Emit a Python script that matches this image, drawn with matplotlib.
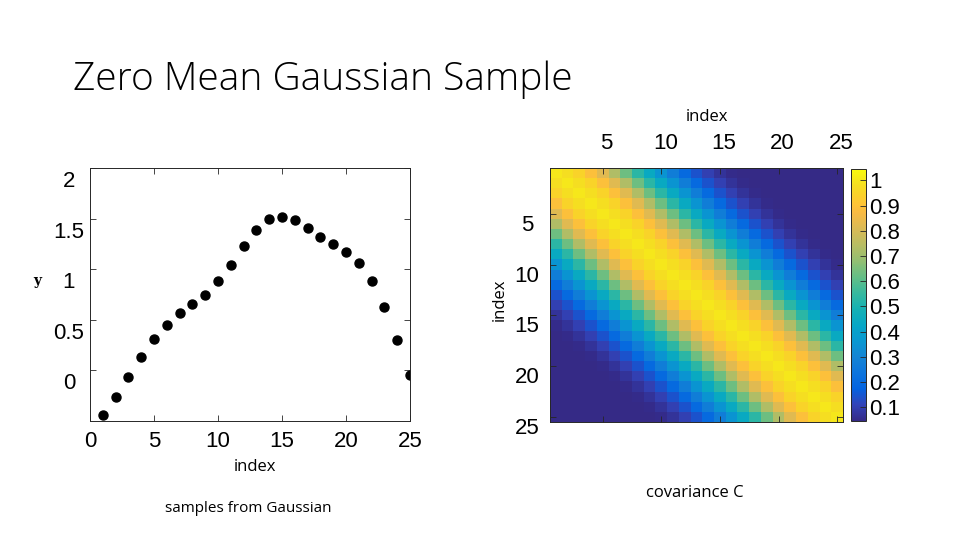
import numpy as np
import matplotlib
matplotlib.use('Agg')
import matplotlib.pyplot as plt
import matplotlib.transforms as mtransforms
from matplotlib.colors import LinearSegmentedColormap

# samples drawn from the Gaussian
idx = np.arange(1, 26)
y_samples = [-0.44, -0.26, -0.07, 0.13, 0.31, 0.45, 0.57, 0.66, 0.75, 0.88,
             1.04, 1.23, 1.39, 1.50, 1.52, 1.49, 1.41, 1.32, 1.25, 1.17,
             1.06, 0.88, 0.63, 0.30, -0.05]

# covariance C is a band (Toeplitz) matrix: value for each lag |i-j|
lag_vals = [1.0, 0.98, 0.95, 0.89, 0.82, 0.73, 0.63, 0.53, 0.44, 0.35,
            0.27, 0.20, 0.14, 0.10, 0.07, 0.05, 0.045, 0.045, 0.045, 0.045,
            0.045, 0.045, 0.045, 0.045, 0.045]

cb_ticks = [0.1, 0.2, 0.3, 0.4, 0.5, 0.6, 0.7, 0.8, 0.9, 1]
heat_ticks = [5, 10, 15, 20, 25]

lag = np.abs(np.subtract.outer(np.arange(25), np.arange(25)))
C = np.array(lag_vals)[lag]

# parula (matlab) sampled
parula_pts = [
    (0.2081, 0.1663, 0.5292), (0.1959, 0.2645, 0.7279), (0.0117, 0.3875, 0.8820),
    (0.0498, 0.4586, 0.8641), (0.0793, 0.5200, 0.8312), (0.0343, 0.5966, 0.8199),
    (0.0228, 0.6535, 0.7768), (0.0843, 0.6928, 0.7062), (0.2178, 0.7250, 0.6193),
    (0.3953, 0.7459, 0.5244), (0.5709, 0.7485, 0.4494), (0.7184, 0.7411, 0.3905),
    (0.8507, 0.7299, 0.3360), (0.9739, 0.7314, 0.2666), (0.9990, 0.7653, 0.2164),
    (0.9880, 0.8066, 0.1794), (0.9626, 0.8705, 0.1309), (0.9763, 0.9831, 0.0538),
]
parula_pos = [0, 4, 8, 12, 16, 20, 24, 28, 32, 36, 40, 44, 48, 52, 54, 56, 59, 63]
parula = LinearSegmentedColormap.from_list(
    'parula', [(p / 63, c) for p, c in zip(parula_pos, parula_pts)])

W, H = 960, 540
fig = plt.figure(figsize=(9.6, 5.4), dpi=100)

def px(l, b, w, h):
    return [l / W, (H - b) / H, w / W, h / H]

tick_family = ['Liberation Sans', 'DejaVu Sans']
tick_size = 16
lab_font = ['Open Sans', 'DejaVu Sans']
edge = '#262626'

def style_labels(labels, dx=0, dy=0, ha=None):
    off = mtransforms.ScaledTranslation(dx / 100, dy / 100, fig.dpi_scale_trans)
    for lb in labels:
        lb.set_fontfamily(tick_family)
        lb.set_fontsize(tick_size)
        if ha:
            lb.set_horizontalalignment(ha)
        if dx or dy:
            lb.set_transform(lb.get_transform() + off)

# title
fig.text(73 / W, 1 - 80 / H, 'Zero Mean Gaussian Sample', fontsize=28,
         family=['Open Sans', 'DejaVu Sans'], fontweight='light', va='center', ha='left')

# ---- left: samples ----
ax = fig.add_axes(px(90, 421, 320, 253))
ax.plot(idx, y_samples, 'o', color='black', markersize=6.5)
ax.set_xlim(0, 25)
ax.set_ylim(-0.5, 2)
ax.set_xticks([0, 5, 10, 15, 20, 25])
ax.set_yticks([0, 0.5, 1, 1.5, 2])
ax.set_yticklabels(['0', '0.5', '1', '1.5', '2'])
ax.tick_params(direction='in', top=True, right=True, length=4, width=0.6,
               color=edge)
ax.tick_params(axis='y', pad=3)
ax.tick_params(axis='x', pad=7)
style_labels(ax.get_xticklabels())
# matlab export: y labels sit centred ~20px left of the axis, a bit low
style_labels(ax.get_yticklabels(), dx=-17, dy=-11, ha='center')
for s in ax.spines.values():
    s.set_color(edge)
    s.set_linewidth(0.7)
fig.text(37 / W, 1 - 281 / H, 'y', fontsize=10, family=['DejaVu Serif'],
         fontweight='bold', ha='center', va='center')
fig.text(255 / W, 1 - 467 / H, 'index', fontsize=12, family=lab_font,
         ha='center', va='center')
fig.text(248 / W, 1 - 509 / H, 'samples from Gaussian', fontsize=11, family=lab_font,
         ha='center', va='center')

# ---- right: covariance ----
ax2 = fig.add_axes(px(550, 422, 293, 254))
im = ax2.imshow(C, cmap=parula, vmin=0.045, vmax=1.045, aspect='auto',
                interpolation='nearest', extent=(0.5, 25.5, 25.5, 0.5))
ax2.xaxis.tick_top()
ax2.set_xticks(heat_ticks)
ax2.set_yticks(heat_ticks)
ax2.tick_params(direction='in', top=True, bottom=True, left=True, right=True,
                length=4, width=0.6, color=edge)
ax2.tick_params(axis='x', pad=10)
ax2.tick_params(axis='y', pad=3)
style_labels(ax2.get_xticklabels(), dx=4)
style_labels(ax2.get_yticklabels(), dx=-19, dy=-9, ha='center')
for s in ax2.spines.values():
    s.set_color(edge)
    s.set_linewidth(0.7)
fig.text(707 / W, 1 - 117 / H, 'index', fontsize=12, family=lab_font,
         ha='center', va='center')
fig.text(500 / W, 1 - 300 / H, 'index', fontsize=12, family=lab_font,
         ha='center', va='center', rotation=90)
fig.text(695 / W, 1 - 493 / H, 'covariance C', fontsize=12, family=lab_font,
         ha='center', va='center')

cax = fig.add_axes(px(851, 421, 15, 252))
cb = fig.colorbar(im, cax=cax, ticks=cb_ticks)
cb.ax.set_yticklabels(['0.1', '0.2', '0.3', '0.4', '0.5', '0.6', '0.7', '0.8', '0.9', '1'])
cb.ax.tick_params(direction='in', length=4, width=0.6, color=edge, pad=2)
style_labels(cb.ax.get_yticklabels())
cb.outline.set_edgecolor(edge)
cb.outline.set_linewidth(0.7)

fig.savefig('out.png', dpi=100)
